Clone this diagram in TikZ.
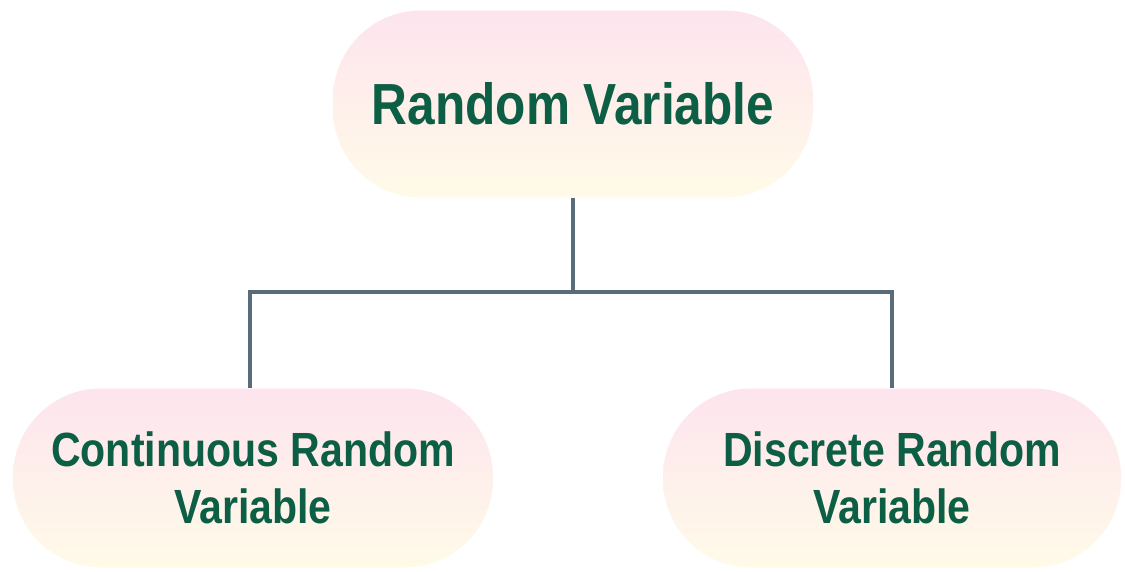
\documentclass[tikz,border=0pt]{standalone}
\usepackage{fontspec}
\setmainfont[FakeStretch=0.855]{Liberation Sans}
\definecolor{txtgreen}{RGB}{12,94,68}
\definecolor{linec}{RGB}{88,108,122}
\definecolor{pinkc}{RGB}{253,228,238}
\definecolor{yellc}{RGB}{255,251,232}
\tikzset{
  pill/.style={rounded corners=88pt, top color=pinkc, bottom color=yellc, draw=none,
    align=center, text=txtgreen, font=\bfseries, inner sep=0pt},
  conn/.style={draw=linec, line width=3.2pt}
}
\begin{document}
\begin{tikzpicture}[x=1pt,y=-1pt]
\useasboundingbox (0,0) rectangle (1125,571);
\node[pill, minimum width=480pt, minimum height=187pt, font=\bfseries\fontsize{58}{64}\selectfont] (top) at (573,104) {Random Variable};
\node[pill, minimum width=480pt, minimum height=179pt, font=\bfseries\fontsize{48}{57}\selectfont] (left) at (253,478) {Continuous Random\\Variable};
\node[pill, minimum width=458pt, minimum height=179pt, font=\bfseries\fontsize{48}{57}\selectfont] (right) at (892,478) {Discrete Random\\Variable};
\coordinate (j) at (573,292);
\draw[conn] (top.south) -- (j);
\draw[conn] (left.north -| 250,0) |- (j) -| (right.north);
\end{tikzpicture}
\end{document}
